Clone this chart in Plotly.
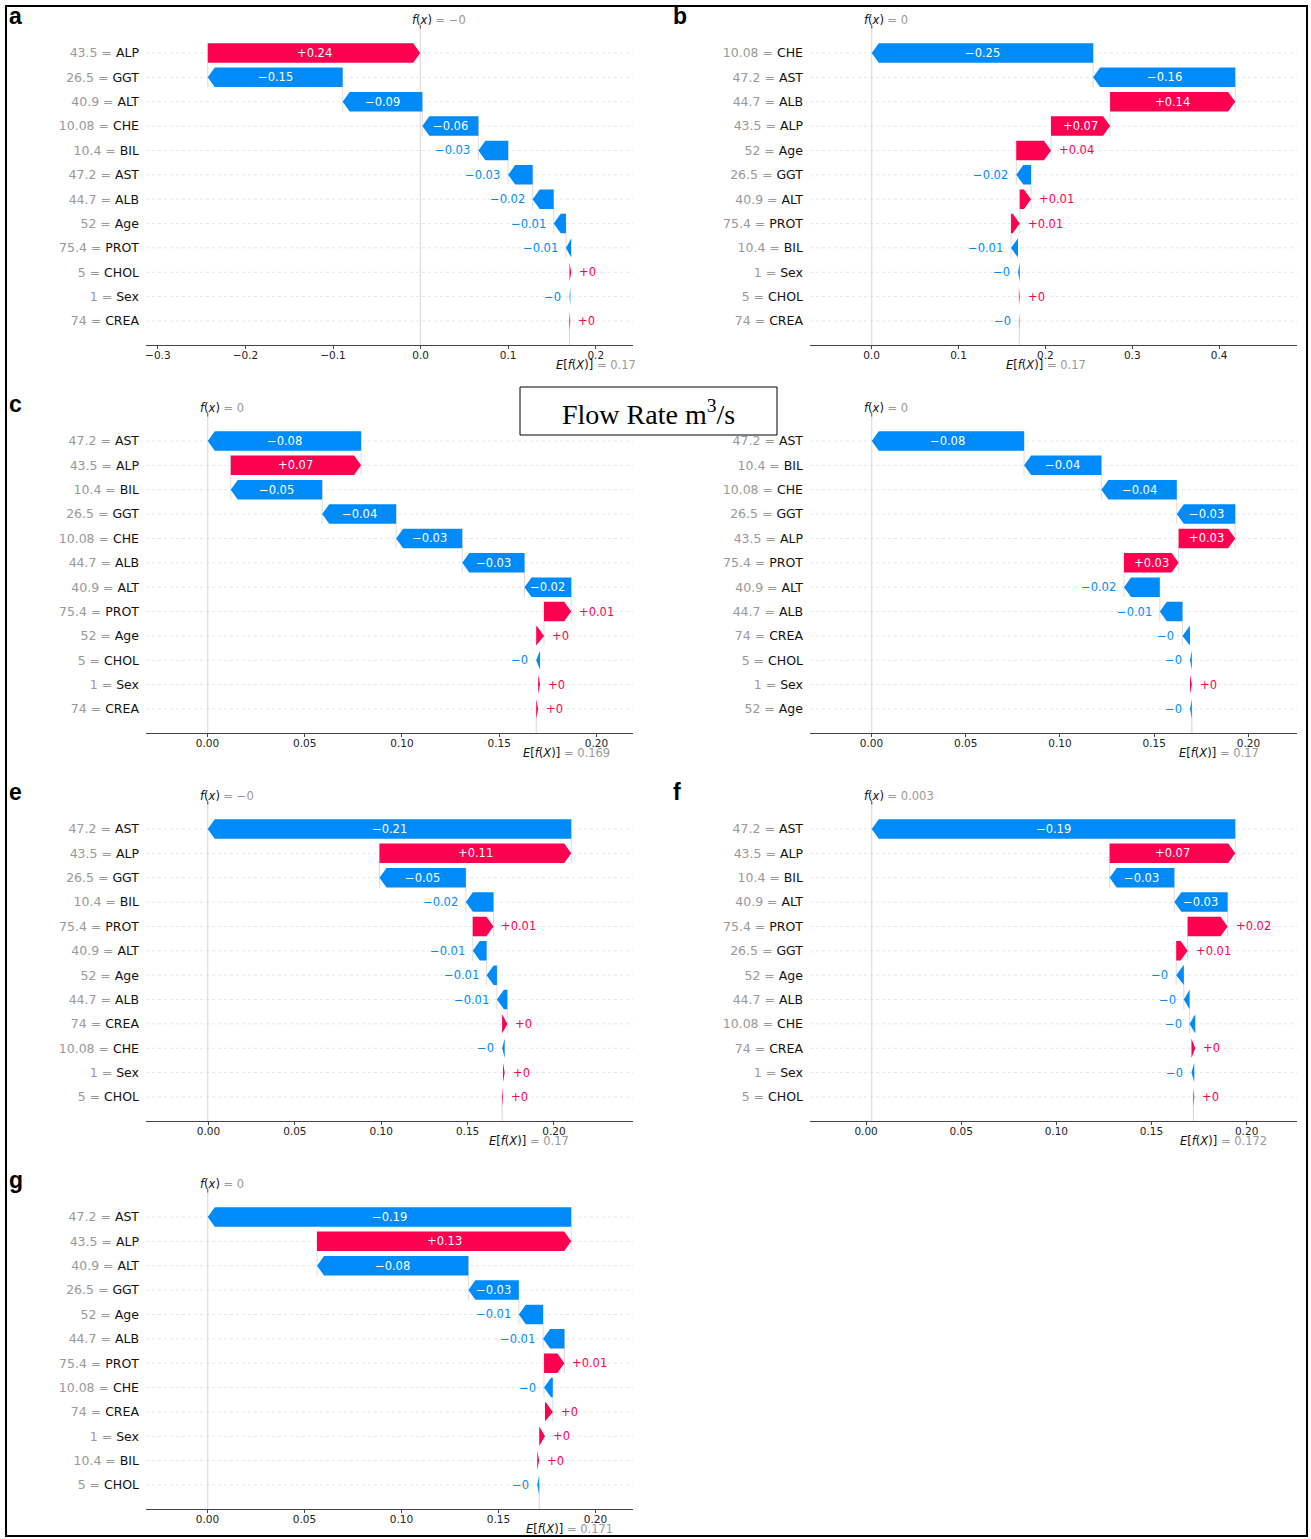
import re
import plotly.graph_objects as go

# ---------------- data ----------------
FEATURE_NAMES = ["Age", "Sex", "ALB", "ALP", "ALT", "AST", "BIL", "CHE", "CHOL", "CREA", "GGT", "PROT"]
FEATURE_VALUES = [52, 1, 44.7, 43.5, 40.9, 47.2, 10.4, 10.08, 5, 74, 26.5, 75.4]

PANEL_LABELS = ["a", "b", "c", "d", "e", "f", "g"]
BASE_VALUES = [0.170, 0.170, 0.169, 0.170, 0.170, 0.172, 0.171]

# rows listed top -> bottom
A_ORDER = ["ALP", "GGT", "ALT", "CHE", "BIL", "AST", "ALB", "Age", "PROT", "CHOL", "Sex", "CREA"]
A_SHAP = [0.2426, -0.154, -0.091, -0.064, -0.034, -0.028, -0.024, -0.014, -0.006, 0.002, -0.001, 0.001]

B_ORDER = ["CHE", "AST", "ALB", "ALP", "Age", "GGT", "ALT", "PROT", "BIL", "Sex", "CHOL", "CREA"]
B_SHAP = [-0.2548, -0.1635, 0.144, 0.068, 0.040, -0.017, 0.013, 0.010, -0.008, -0.002, 0.001, -0.0005]

C_ORDER = ["AST", "ALP", "BIL", "GGT", "CHE", "ALB", "ALT", "PROT", "Age", "CHOL", "Sex", "CREA"]
C_SHAP = [-0.0788, 0.067, -0.047, -0.038, -0.034, -0.032, -0.024, 0.014, 0.004, -0.002, 0.001, 0.001]

D_ORDER = ["AST", "BIL", "CHE", "GGT", "ALP", "PROT", "ALT", "ALB", "CREA", "CHOL", "Sex", "Age"]
D_SHAP = [-0.0808, -0.041, -0.040, -0.031, 0.030, 0.029, -0.019, -0.012, -0.004, -0.001, 0.001, -0.001]

E_ORDER = ["AST", "ALP", "GGT", "BIL", "PROT", "ALT", "Age", "ALB", "CREA", "CHE", "Sex", "CHOL"]
E_SHAP = [-0.2104, 0.111, -0.050, -0.016, 0.012, -0.008, -0.006, -0.006, 0.003, -0.0015, 0.001, 0.0005]

F_ORDER = ["AST", "ALP", "BIL", "ALT", "PROT", "GGT", "Age", "ALB", "CHE", "CREA", "Sex", "CHOL"]
F_SHAP = [-0.191, 0.066, -0.034, -0.028, 0.021, 0.006, -0.004, -0.003, -0.003, 0.002, -0.0015, 0.0005]

G_ORDER = ["AST", "ALP", "ALT", "GGT", "Age", "ALB", "PROT", "CHE", "CREA", "Sex", "BIL", "CHOL"]
G_SHAP = [-0.1873, 0.131, -0.078, -0.026, -0.0125, -0.011, 0.0105, -0.0045, 0.004, 0.003, 0.001, -0.001]

PANEL_ORDERS = [A_ORDER, B_ORDER, C_ORDER, D_ORDER, E_ORDER, F_ORDER, G_ORDER]
PANEL_SHAPS = [A_SHAP, B_SHAP, C_SHAP, D_SHAP, E_SHAP, F_SHAP, G_SHAP]

BOX_TEXT = "Flow Rate m<sup>3</sup>/s"

# ---------------- style / layout ----------------
POS_COLOR = "#ff0051"
NEG_COLOR = "#008bfb"
W, H = 1311, 1539
COL_PX = [(146, 633), (810, 1297)]
BLOCK_ROW0 = [53, 441, 829, 1217]
ROW_STEP = 24.36
GRID = [(0, 0), (1, 0), (0, 1), (1, 1), (0, 2), (1, 2), (0, 3)]
SHOW_LETTER = [True, True, True, False, True, True, True]
LETTER_X = [7, 671]
DTICK = [0.1, 0.1, 0.05, 0.05, 0.05, 0.05, 0.05]
TICKFMT = [".1f", ".1f", ".2f", ".2f", ".2f", ".2f", ".2f"]
HEAD_PX = 7
INSIDE_EM_PX = 14
FONT = "DejaVu Sans"

fval = dict(zip(FEATURE_NAMES, FEATURE_VALUES))


def fmt(v, f):
    s = f % v
    s = re.sub(r"\.?0+$", "", s)
    if s.startswith("-"):
        s = "\u2212" + s[1:]
    return s


EMW = {"+": 0.838, "\u2212": 0.838, ".": 0.318}


def text_em(s):
    return sum(EMW.get(c, 0.636) for c in s)


fig = go.Figure()
shapes, annotations = [], []
layout_axes = {}

for k, (order, shap) in enumerate(zip(PANEL_ORDERS, PANEL_SHAPS)):
    n = len(order)
    base = BASE_VALUES[k]
    col, blk = GRID[k]
    sfx = "" if k == 0 else str(k + 1)
    xa, ya = "x" + sfx, "y" + sfx

    starts = [0.0] * n
    ends = [0.0] * n
    cur = base
    for i in range(n - 1, -1, -1):
        starts[i] = cur
        cur = cur + shap[i]
        ends[i] = cur
    fx = cur

    pts = starts + ends
    lo, hi = min(pts), max(pts)
    span = hi - lo
    xr = [lo - 0.17 * span, hi + 0.17 * span]
    x0px, x1px = COL_PX[col]
    ppu = (x1px - x0px) / (xr[1] - xr[0])
    hl_data = HEAD_PX / ppu
    top_px = BLOCK_ROW0[blk] - ROW_STEP
    bot_px = BLOCK_ROW0[blk] + n * ROW_STEP

    # row guide lines
    for i in range(n):
        shapes.append(dict(type="line", xref=xa + " domain", yref=ya, x0=0, x1=1, y0=i, y1=i,
                           line=dict(color="#e6e6e6", width=1, dash="dot"), layer="below"))
    # f(x) vertical line + top tick
    shapes.append(dict(type="line", xref=xa, yref=ya + " domain", x0=fx, x1=fx, y0=0, y1=1,
                       line=dict(color="#d6d6d6", width=1), layer="below"))
    shapes.append(dict(type="line", xref=xa, yref=ya + " domain", x0=fx, x1=fx, y0=1, y1=1.012,
                       line=dict(color="#444", width=1)))
    # base value line (bottom part)
    shapes.append(dict(type="line", xref=xa, yref=ya, x0=base, x1=base, y0=n, y1=n - 1.1,
                       line=dict(color="#d6d6d6", width=1), layer="below"))
    # connecting lines
    for i in range(n - 4):
        shapes.append(dict(type="line", xref=xa, yref=ya, x0=starts[i], x1=starts[i],
                           y0=i - 0.4, y1=i + 1.4,
                           line=dict(color="#dcdcdc", width=1), layer="below"))

    # arrows
    px_, py_, nx_, ny_ = [], [], [], []
    h = 0.4
    for i in range(n):
        s, e, v = starts[i], ends[i], shap[i]
        hl = min(abs(v), hl_data)
        if v >= 0:
            px_ += [s, e - hl, e, e - hl, s, s, None]
            py_ += [i - h, i - h, i, i + h, i + h, i - h, None]
        else:
            nx_ += [s, e + hl, e, e + hl, s, s, None]
            ny_ += [i - h, i - h, i, i + h, i + h, i - h, None]

        lab = fmt(v, "%+0.02f")
        wpx = abs(v) * ppu
        if wpx > text_em(lab) * INSIDE_EM_PX:
            annotations.append(dict(x=(s + e) / 2, y=i, xref=xa, yref=ya, text=lab, showarrow=False,
                                    xanchor="center", yanchor="middle",
                                    font=dict(family=FONT, size=11.5, color="white")))
        else:
            annotations.append(dict(x=e, y=i, xref=xa, yref=ya, text=lab, showarrow=False,
                                    xanchor="left" if v >= 0 else "right",
                                    xshift=6 if v >= 0 else -6, yanchor="middle",
                                    font=dict(family=FONT, size=11.5,
                                              color=POS_COLOR if v >= 0 else NEG_COLOR)))

    fig.add_trace(go.Scatter(x=px_, y=py_, mode="lines", fill="toself", fillcolor=POS_COLOR,
                             line=dict(width=0, color=POS_COLOR), hoverinfo="skip",
                             showlegend=False, xaxis=xa, yaxis=ya))
    fig.add_trace(go.Scatter(x=nx_, y=ny_, mode="lines", fill="toself", fillcolor=NEG_COLOR,
                             line=dict(width=0, color=NEG_COLOR), hoverinfo="skip",
                             showlegend=False, xaxis=xa, yaxis=ya))

    # f(x) and E[f(X)] labels
    annotations.append(dict(x=fx, xref=xa, y=1 - (top_px - 9) / H, yref="paper",
                            text="<i>f</i>(<i>x</i>) <span style='color:#999999'>= " + fmt(fx, "%0.03f") + "</span>",
                            showarrow=False, xanchor="left", yanchor="middle", xshift=-10,
                            font=dict(family=FONT, size=11.5, color="#111")))
    annotations.append(dict(x=base, xref=xa, y=1 - (bot_px + 20) / H, yref="paper",
                            text="<i>E</i>[<i>f</i>(<i>X</i>)] <span style='color:#999999'>= " + fmt(base, "%0.03f") + "</span>",
                            showarrow=False, xanchor="left", yanchor="middle", xshift=-15,
                            font=dict(family=FONT, size=11.5, color="#111")))

    # panel letter
    if SHOW_LETTER[k]:
        annotations.append(dict(x=LETTER_X[col] / W, y=1 - (BLOCK_ROW0[blk] - 37) / H, xref="paper", yref="paper",
                                text="<b>" + PANEL_LABELS[k] + "</b>", showarrow=False,
                                xanchor="left", yanchor="middle",
                                font=dict(family="Liberation Sans", size=23, color="black")))

    ticktext = ["<span style='color:#999999'>" + fmt(fval[nm], "%0.03f") + " = </span>" + nm for nm in order]
    layout_axes["xaxis" + sfx] = dict(domain=[x0px / W, x1px / W], range=xr, anchor=ya,
                                      showline=True, linecolor="#444", linewidth=1,
                                      ticks="outside", ticklen=3, tickcolor="#444",
                                      ticklabelstandoff=-3,
                                      showgrid=False, zeroline=False, dtick=DTICK[k], tick0=0,
                                      tickformat=TICKFMT[k],
                                      tickfont=dict(family=FONT, size=10.5, color="#222"))
    layout_axes["yaxis" + sfx] = dict(domain=[1 - bot_px / H, 1 - top_px / H], range=[n, -1], anchor=xa,
                                      tickmode="array", tickvals=list(range(n)), ticktext=ticktext,
                                      showline=False, ticks="", showgrid=False, zeroline=False,
                                      ticklabelstandoff=6,
                                      tickfont=dict(family=FONT, size=12.5, color="#111"))

# Flow rate box
shapes.append(dict(type="rect", xref="paper", yref="paper", x0=520 / W, x1=777 / W,
                   y0=1 - 435 / H, y1=1 - 387 / H, line=dict(color="black", width=1),
                   fillcolor="white", layer="above"))
annotations.append(dict(x=648 / W, y=1 - 412 / H, xref="paper", yref="paper", text=BOX_TEXT,
                        showarrow=False, xanchor="center", yanchor="middle",
                        font=dict(family="Liberation Serif", size=28, color="black")))
# outer frame
shapes.append(dict(type="rect", xref="paper", yref="paper", x0=6 / W, x1=1307 / W,
                   y0=1 - 1536 / H, y1=1 - 6 / H, line=dict(color="black", width=2), layer="above"))

fig.update_layout(width=W, height=H, margin=dict(l=0, r=0, t=0, b=0),
                  paper_bgcolor="white", plot_bgcolor="white",
                  shapes=shapes, annotations=annotations, showlegend=False, **layout_axes)

fig.write_html("out.html", config={"displayModeBar": False},
               post_script="document.body.style.margin='0px';")
